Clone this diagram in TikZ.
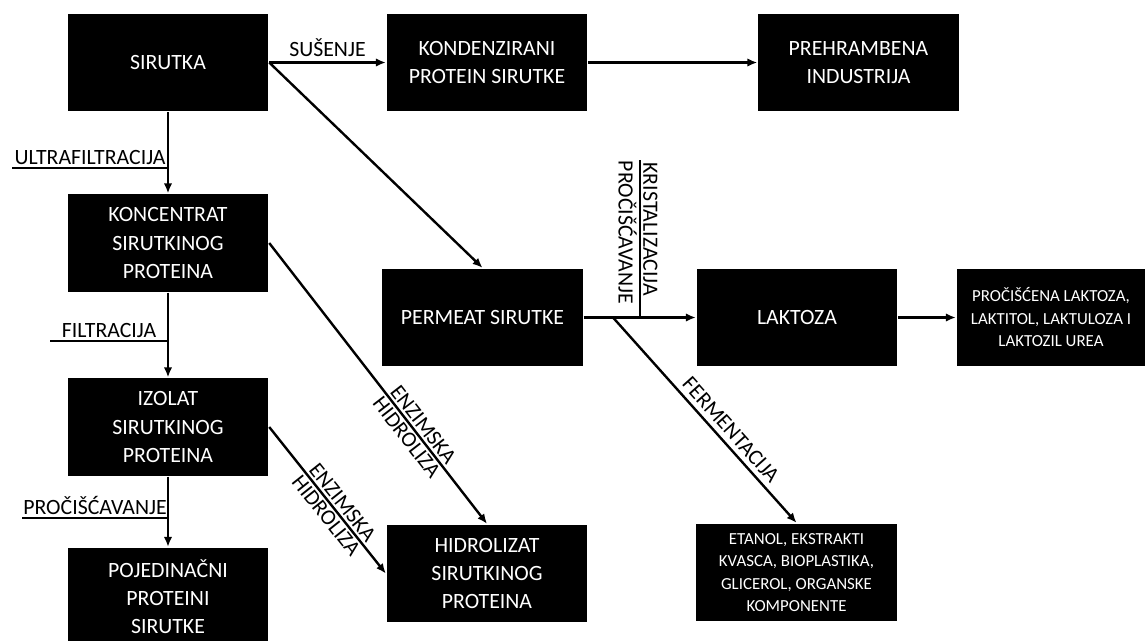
\documentclass[tikz,border=0pt]{standalone}
\usepackage{fontspec}
\setmainfont{Carlito}
\usetikzlibrary{arrows.meta}

\tikzset{
	box/.style = {fill = black, text = white, align = center, inner sep = 2pt,
		minimum width = 5cm, minimum height = 2.425cm},
	smallbox/.style = {box, font = \fontsize{12}{16}\selectfont},
	steptext/.style = {inner sep = 1.5pt}
}

\begin{document}
\begin{tikzpicture}[x = 0.025cm, y = -0.025cm, > = {Latex[length = 7pt, width = 6pt]},
	line width = 1.7pt, font = \fontsize{15.5}{20}\selectfont]

	\useasboundingbox (0, 0) rectangle (1146, 640);

	% Products
	
	\node [box] (sirutka) at (168, 62.5) {SIRUTKA};
	\node [box] (kondenzirani) at (487, 62.5) {KONDENZIRANI\\PROTEIN SIRUTKE};
	\node [box] (prehrambena) at (858.5, 62.5) {PREHRAMBENA\\INDUSTRIJA};
	\node [box] (koncentrat) at (168, 243) {KONCENTRAT\\SIRUTKINOG\\PROTEINA};
	\node [box] (izolat) at (168, 427) {IZOLAT\\SIRUTKINOG\\PROTEINA};
	\node [box] (pojedinacni) at (168, 596.5) {POJEDINAČNI\\PROTEINI\\SIRUTKE};
	\node [box] (permeat) at (482.5, 317.5) {PERMEAT SIRUTKE};
	\node [box] (laktoza) at (797, 317.5) {LAKTOZA};
	\node [box] (hidrolizat) at (487, 573.5) {HIDROLIZAT\\SIRUTKINOG\\PROTEINA};
	\node [smallbox, minimum width = 4.7cm] (prociscena) at (1051, 317.5) {PROČIŠĆENA LAKTOZA,\\LAKTITOL, LAKTULOZA I\\LAKTOZIL UREA};
	\node [smallbox] (etanol) at (796.5, 572.5) {ETANOL, EKSTRAKTI\\KVASCA, BIOPLASTIKA,\\GLICEROL, ORGANSKE\\KOMPONENTE};

	% Label lines
	
	\coordinate (ultra) at (12, 168);
	\coordinate (filtr) at (50, 341);
	\coordinate (procis) at (22, 518);
	\coordinate (kristal) at (640, 160);
	\coordinate (ferm) at (613, 317.5);

	\draw (ultra) -- node [midway, above, steptext] {ULTRAFILTRACIJA} (ultra -| sirutka.south);
	\draw (filtr) -- node [midway, above, steptext] {FILTRACIJA} (filtr -| koncentrat.south);
	\draw (procis) -- node [midway, above, steptext] {PROČIŠĆAVANJE} (procis -| izolat.south);
	\draw (kristal) -- node [pos = 0.44, sloped, above, steptext] {KRISTALIZACIJA}
		node [pos = 0.46, sloped, below, steptext] {PROČIŠĆAVANJE} (kristal |- permeat.east);

	% Processes
	
	\draw [->] (sirutka) -- node [midway, above] {SUŠENJE} (kondenzirani);
	\draw [->] (kondenzirani) -- (prehrambena);
	\draw [->] (sirutka.east) -- (permeat.north);
	\draw [->] (sirutka) -- (koncentrat);
	\draw [->] (koncentrat) -- (izolat);
	\draw [->] (izolat) -- (pojedinacni);
	\draw [->] (koncentrat.east) -- node [pos = 0.67, sloped, above, steptext] {ENZIMSKA}
		node [pos = 0.67, sloped, below, steptext] {HIDROLIZA} (hidrolizat.north);
	\draw [->] (izolat.east) -- node [pos = 0.56, sloped, above, steptext] {ENZIMSKA}
		node [pos = 0.56, sloped, below, steptext] {HIDROLIZA} (hidrolizat.west);
	\draw [->] (permeat) -- (laktoza);
	\draw [->] (laktoza) -- (prociscena);
	\draw [->] (ferm) -- node [pos = 0.59, sloped, above] {FERMENTACIJA} (etanol.north);

\end{tikzpicture}
\end{document}
